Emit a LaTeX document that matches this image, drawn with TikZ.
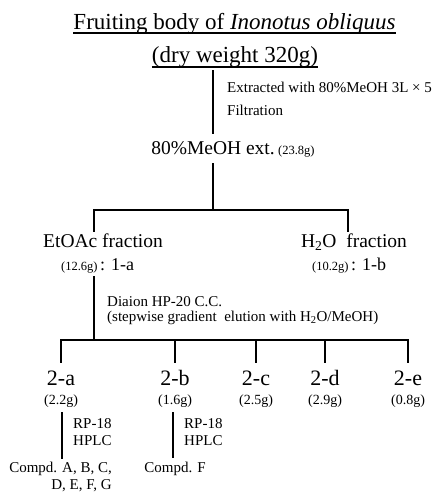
\documentclass[tikz,border=0pt]{standalone}
\usepackage{fontspec}
\setmainfont{Liberation Serif}
\usetikzlibrary{calc}

\tikzset{
    txt/.style={inner sep=0pt, anchor=base},
    big/.style={txt, font=\fontsize{22}{26}\selectfont},
    mid/.style={txt, font=\fontsize{19.5}{23}\selectfont},
    small/.style={txt, font=\fontsize{15}{18}\selectfont},
    mass/.style={txt, font=\fontsize{14}{17}\selectfont},
    stem/.style={line width=2.6pt, line cap=rect},
}
\newcommand{\gr}[1]{{\fontsize{12.5}{15}\selectfont #1}}

\begin{document}
\begin{tikzpicture}[x=1pt, y=-1pt]
    \useasboundingbox (0,0) rectangle (433,492);

    % Starting material
    \node[big, font=\fontsize{23}{27}\selectfont] (title1) at (234.5,29.5) {Fruiting body of \textit{Inonotus obliquus}};
    \node[big, font=\fontsize{23}{27}\selectfont] (title2) at (235,63) {(dry weight 320g)};
    \draw[line width=1.1pt] ([yshift=-3.5pt]title1.base west) -- ([yshift=-3.5pt]title1.base east);
    \draw[line width=1.1pt] ([yshift=-4pt]title2.base west) -- ([yshift=-4pt]title2.base east);

    % Extraction
    \node[mid] (ext) at (213,154) {80\%MeOH ext.};
    \node[txt, anchor=base west, xshift=3pt] (extm) at (ext.base east) {\gr{(23.8g)}};
    \draw[stem] ([yshift=-8pt]title2.base -| ext.base) -- ([yshift=21pt]ext.base);
    \node[small, anchor=base west] (lab1) at (227,93) {Extracted with 80\%MeOH 3L × 5};
    \node[small, anchor=base west] (lab2) at (227,116) {Filtration};

    % Partition
    \coordinate (fork1) at (213,210);
    \node[mid] (etoac) at (103,247) {EtOAc fraction};
    \node[txt, anchor=base west] (etm) at (61,270) {\gr{(12.6g)} {\fontsize{18}{21}\selectfont : 1-a}};
    \node[mid] (water) at (354,247) {H\textsubscript{2}O\ \ fraction};
    \node[txt, anchor=base west] (wam) at (312,270) {\gr{(10.2g)} {\fontsize{18}{21}\selectfont : 1-b}};
    \coordinate (etl) at (94,231);
    \coordinate (h2l) at (348,231);
    \draw[stem] ([yshift=-10pt]ext.base) -- (fork1);
    \draw[stem] (etl) -- (etl |- fork1) -- (h2l |- fork1) -- (h2l);

    % Diaion column
    \coordinate (fork2) at (94,340);
    \draw[stem] ([yshift=-4pt]etm.south -| etl) -- (fork2);
    \node[small, anchor=base west] (lab3) at (107,306) {Diaion HP-20 C.C.};
    \node[small, anchor=base west] (lab4) at (107,321) {(stepwise gradient\ \ elution with H\textsubscript{2}O/MeOH)};

    % Fractions 2-a ... 2-e
    \foreach \n/\x/\m in {a/61/2.2, b/175/1.6, c/256/2.5, d/325/2.9, e/408/0.8} {
        \node[big] (f\n) at (\x,385) {2-\n};
        \node[mass] (m\n) at (\x,404) {(\m g)};
        \draw[stem] (f\n.base |- fork2) -- ([yshift=23pt]f\n.base);
    }
    \draw[stem] (fa.base |- fork2) -- (fe.base |- fork2);

    % HPLC
    \node[small, anchor=base east] (ca1) at (112,472) {Compd. A, B, C,};
    \node[small, anchor=base east] (ca2) at (112,489) {D, E, F, G};
    \node[small] (cf) at (175,472) {Compd. F};
    \draw[stem] ([yshift=-9pt]ma.base -| 62,0) -- ([yshift=14pt]ca1.base -| 62,0);
    \draw[stem] ([yshift=-9pt]mb.base -| 173,0) -- ([yshift=15pt]cf.base -| 173,0);
    \node[small, anchor=base west] (rp1) at (73,428) {RP-18};
    \node[small, anchor=base west] (hp1) at (73,445) {HPLC};
    \node[small, anchor=base west] (rp2) at (184,428) {RP-18};
    \node[small, anchor=base west] (hp2) at (184,445) {HPLC};
\end{tikzpicture}
\end{document}
